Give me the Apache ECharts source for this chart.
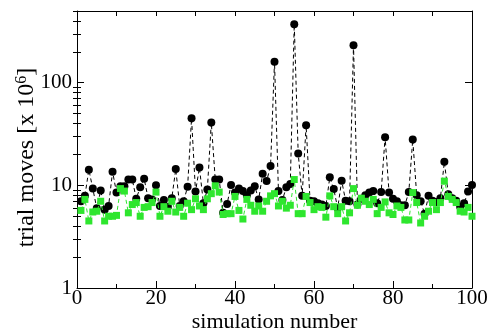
<!DOCTYPE html>
<html>
<head>
<meta charset="utf-8">
<script src="https://cdn.jsdelivr.net/npm/echarts@6/dist/echarts.min.js"></script>
<style>
html,body{margin:0;padding:0;background:#fff;}
#chart{width:490px;height:329px;}
</style>
</head>
<body>
<div id="chart"></div>
<script>
// simulation numbers (x categories)
const simNumbers = [1,2,3,4,5,6,7,8,9,10,11,12,13,14,15,16,17,18,19,20,
21,22,23,24,25,26,27,28,29,30,31,32,33,34,35,36,37,38,39,40,
41,42,43,44,45,46,47,48,49,50,51,52,53,54,55,56,57,58,59,60,
61,62,63,64,65,66,67,68,69,70,71,72,73,74,75,76,77,78,79,80,
81,82,83,84,85,86,87,88,89,90,91,92,93,94,95,96,97,98,99,100];

// trial moves [x 10^6], black circles
const blackMoves = [7.0,7.9,14.2,9.3,6.0,8.9,5.8,6.3,13.6,8.5,
9.8,9.8,11.4,11.4,7.4,9.6,11.6,7.5,7.3,10.0,
6.3,7.2,6.2,7.5,14.4,6.3,7.0,9.7,45,8.7,
14.9,6.7,9.1,41,11.4,11.4,5.4,6.6,10.1,8.5,
9.3,8.8,8.0,8.9,9.8,7.3,13.0,11.0,15.4,160,
8.8,7.2,9.6,10.3,372,20.4,7.9,38.5,7.1,7.0,
6.7,6.5,6.3,12.0,9.2,6.0,11.1,7.1,7.0,232,
6.5,7.4,8.0,8.5,8.8,6.7,8.6,29.5,8.5,7.4,
7.0,6.4,6.4,8.6,28,8.0,7.0,5.3,7.9,7.1,
6.9,7.5,17,8.2,7.5,7.1,6.2,6.7,8.7,10.1];

// trial moves [x 10^6], green squares
const greenMoves = [5.7,7.3,4.5,5.5,5.6,7.0,4.5,5.0,5.0,5.1,
9.3,8.8,5.4,6.5,6.8,5.0,6.1,6.2,6.8,8.6,
5.0,6.2,5.6,7.0,5.5,6.1,5.0,6.7,5.8,7.4,
6.3,5.8,7.4,8.3,9.9,8.6,5.2,5.3,5.3,7.8,
5.7,4.7,7.3,6.4,5.6,6.3,5.6,7.0,7.9,8.3,
6.3,7.0,6.0,6.4,11.4,5.3,5.3,7.8,6.8,5.8,
6.2,6.1,4.9,7.9,6.2,5.3,6.2,4.5,5.4,9.3,
6.4,7.5,7.0,6.5,7.3,5.3,6.1,6.9,5.4,5.2,
6.3,6.1,4.6,4.6,8.5,6.8,4.3,5.0,5.6,6.8,
5.8,6.8,11.0,7.8,7.3,6.8,5.6,5.5,6.1,5.0];

// axis tick values
const yMajorTicks = [1,10,100];
const yMinorTicks = [2,3,4,5,6,7,8,9,20,30,40,50,60,70,80,90,200,300,400,500];

const FONT = '"Liberation Serif","Times New Roman",serif';

const chart = echarts.init(document.getElementById('chart'), null, {renderer:'canvas'});

const blackData = simNumbers.map((s,i)=>[s, blackMoves[i]]);
const greenData = simNumbers.map((s,i)=>[s, greenMoves[i]]);

const yBase = {type:'log', logBase:10, min:1, max:500, splitLine:{show:false}};

const option = {
  animation:false,
  backgroundColor:'#fff',
  grid:{left:77, right:18, top:11, bottom:41, show:false, containLabel:false, outerBoundsMode:'none'},
  xAxis:[
    {type:'value', min:0, max:100, interval:20, position:'bottom',
     axisLine:{show:true, onZero:false, lineStyle:{color:'#000', width:1}},
     axisTick:{show:true, inside:true, length:7, lineStyle:{color:'#000'}},
     minorTick:{show:true, splitNumber:2, length:4, lineStyle:{color:'#000'}},
     axisLabel:{color:'#000', fontFamily:FONT, fontSize:21, margin:0},
     splitLine:{show:false},
     name:'simulation number', nameLocation:'middle', nameGap:23, nameMoveOverlap:false,
     nameTextStyle:{color:'#000', fontFamily:FONT, fontSize:22}},
    {type:'value', min:0, max:100, interval:10, position:'top',
     axisLine:{show:true, onZero:false, lineStyle:{color:'#000', width:1}},
     axisTick:{show:true, inside:true, length:5, lineStyle:{color:'#000'}},
     axisLabel:{show:false}, splitLine:{show:false}}
  ],
  yAxis:[
    Object.assign({}, yBase, {position:'left',
     axisLine:{show:true, onZero:false, lineStyle:{color:'#000', width:1}},
     axisTick:{show:true, inside:true, length:7, customValues:yMajorTicks, lineStyle:{color:'#000'}},
     axisLabel:{color:'#000', fontFamily:FONT, fontSize:21, margin:5, customValues:yMajorTicks,
       verticalAlign:'middle'},
     name:'trial moves [x 10{sup|6}]', nameLocation:'middle', nameGap:38, nameRotate:90, nameMoveOverlap:false,
     nameTextStyle:{color:'#000', fontFamily:FONT, fontSize:24, padding:[0,16,0,0],
       rich:{sup:{fontFamily:FONT, fontSize:16, color:'#000', verticalAlign:'top', padding:[0,0,9,0]}}}}),
    Object.assign({}, yBase, {position:'left',
     axisLine:{show:false},
     axisTick:{show:true, inside:true, length:4, customValues:yMinorTicks, lineStyle:{color:'#000'}},
     axisLabel:{show:false}}),
    Object.assign({}, yBase, {position:'right',
     axisLine:{show:true, onZero:false, lineStyle:{color:'#000', width:1}},
     axisTick:{show:true, inside:true, length:7, customValues:yMajorTicks, lineStyle:{color:'#000'}},
     axisLabel:{show:false}}),
    Object.assign({}, yBase, {position:'right',
     axisLine:{show:false},
     axisTick:{show:true, inside:true, length:4, customValues:yMinorTicks, lineStyle:{color:'#000'}},
     axisLabel:{show:false}})
  ],
  series:[
    {type:'line', name:'black', xAxisIndex:0, yAxisIndex:0, data:blackData,
     symbol:'circle', symbolSize:8, showSymbol:true,
     itemStyle:{color:'#000'},
     lineStyle:{color:'#000', width:1, type:[4,3]}, z:2},
    {type:'line', name:'green', xAxisIndex:0, yAxisIndex:0, data:greenData,
     symbol:'rect', symbolSize:7, showSymbol:true,
     itemStyle:{color:'#2ee62e'},
     lineStyle:{color:'#2ee62e', width:1, type:[4,3]}, z:3}
  ]
};
chart.setOption(option);
</script>
</body>
</html>
